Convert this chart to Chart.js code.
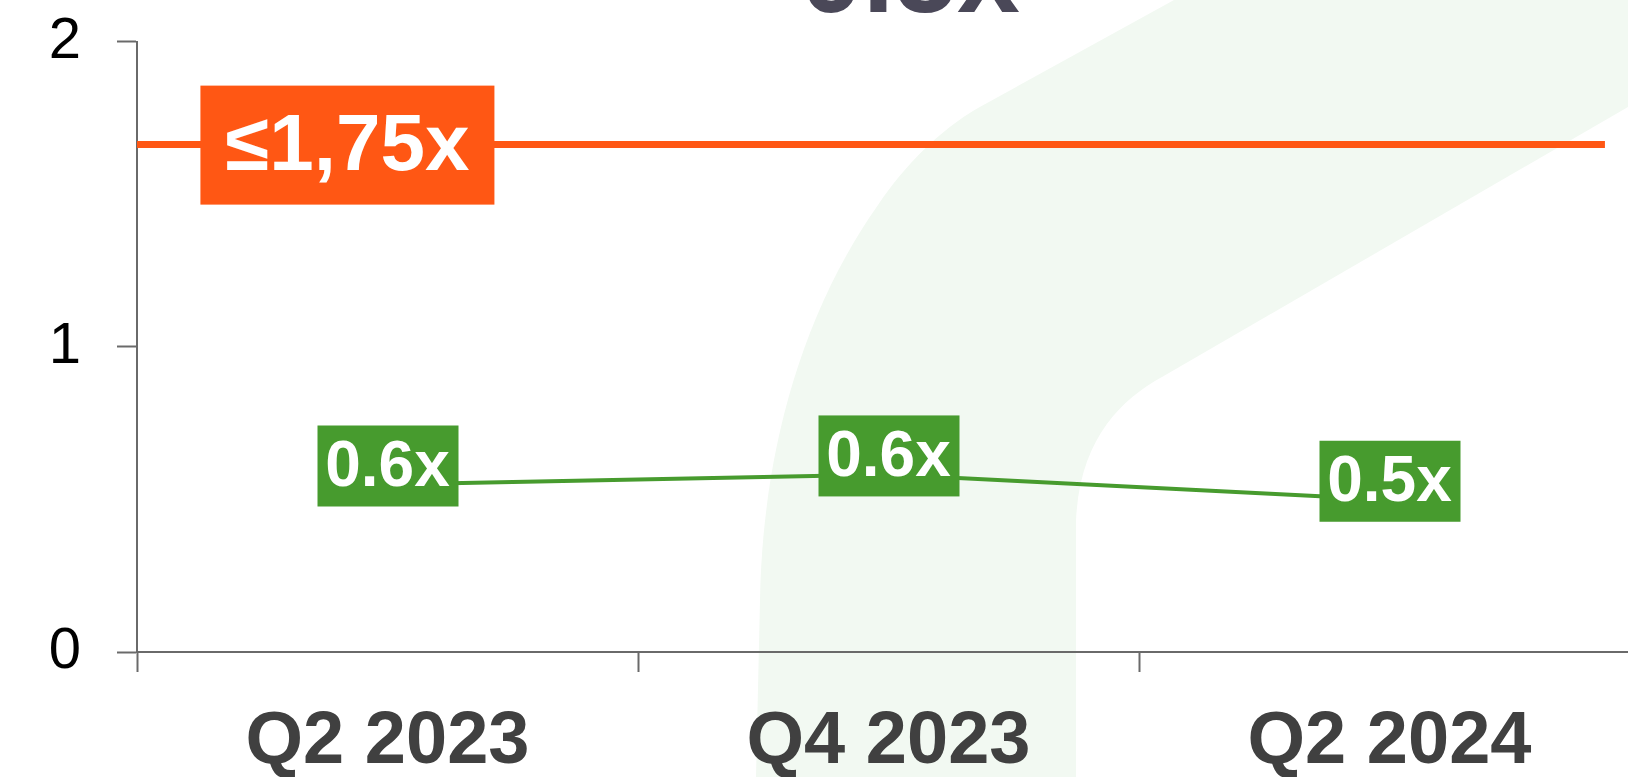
<!DOCTYPE html>
<html>
<head>
<meta charset="utf-8">
<script src="https://cdn.jsdelivr.net/npm/chart.js@4"></script>
<style>
  html, body { margin: 0; padding: 0; background: #fff; overflow: hidden; }
  #wrap { position: relative; width: 1628px; height: 777px; overflow: hidden; }
  #bg { position: absolute; left: 0; top: 0; }
  #headline {
    position: absolute; left: 800px; top: -83px;
    font: bold 113px 'Liberation Sans', Arial, sans-serif; line-height: 1;
    color: #4a4858; white-space: nowrap;
  }
  #chart { position: absolute; left: 0; top: -29px; }
</style>
</head>
<body>
<div id="wrap">
  <svg id="bg" width="1628" height="777">
    <path d="M 756 777 L 760 600 C 762 480, 790 330, 878 205 C 905 165, 940 130, 978 108 L 1174 0 L 1628 0 L 1628 107 L 1162 377 C 1120 400, 1080 440, 1076 520 L 1076 777 Z" fill="#f2f9f2"/>
  </svg>
  <div id="headline">0.5x</div>
  <canvas id="chart" width="1660" height="806"></canvas>
</div>
<script>
const quarters = ['Q2 2023', 'Q4 2023', 'Q2 2024'];
const leverage = [0.549, 0.582, 0.499];
const leverageLabels = ['0.6x', '0.6x', '0.5x'];
const targetValue = 1.663;
const targetSpan = [-0.5, 2.43];
const targetLabel = '\u22641,75x';
const targetLabelAt = -0.08;
const yTicks = [0, 1, 2];

const GREEN = '#479b2e';
const ORANGE = '#ff5714';
const AXIS = '#6a6a6a';
const FONT = "'Liberation Sans', Arial, sans-serif";

const labelBoxes = {
    id: 'labelBoxes',
    afterDatasetsDraw(chart) {
        const ctx = chart.ctx;
        ctx.save();
        ctx.textAlign = 'center';
        ctx.textBaseline = 'middle';

        // target label, sits on the threshold line
        const xl = chart.scales.xl, y = chart.scales.y;
        const tx = xl.getPixelForValue(targetLabelAt);
        const ty = y.getPixelForValue(targetValue);
        ctx.fillStyle = ORANGE;
        ctx.fillRect(tx - 147, ty - 59, 294, 119);
        ctx.fillStyle = '#fff';
        ctx.font = 'bold 80px ' + FONT;
        ctx.fillText(targetLabel, tx, ty + 3);

        // value boxes for the leverage line
        const meta = chart.getDatasetMeta(0);
        ctx.font = 'bold 64px ' + FONT;
        meta.data.forEach((pt, i) => {
            const cy = pt.y - 19;
            ctx.fillStyle = GREEN;
            ctx.fillRect(pt.x - 70, cy - 40, 141, 81);
            ctx.fillStyle = '#fff';
            ctx.fillText(leverageLabels[i], pt.x, cy + 3);
        });
        ctx.restore();
    }
};

new Chart(document.getElementById('chart'), {
    type: 'line',
    data: {
        labels: quarters,
        datasets: [
            {
                data: leverage,
                borderColor: GREEN,
                borderWidth: 4,
                pointRadius: 0,
                tension: 0
            },
            {
                data: targetSpan.map(x => ({ x: x, y: targetValue })),
                xAxisID: 'xl',
                borderColor: ORANGE,
                borderWidth: 7,
                pointRadius: 0
            }
        ]
    },
    options: {
        responsive: false,
        animation: false,
        layout: { padding: { left: 0, top: 13, right: 20, bottom: 0 } },
        plugins: { legend: { display: false }, tooltip: { enabled: false } },
        scales: {
            x: {
                type: 'category',
                offset: true,
                grid: { offset: true, drawOnChartArea: false, tickLength: 20, tickColor: AXIS, tickWidth: 2 },
                border: { color: AXIS, width: 2 },
                ticks: { color: '#404040', font: { family: FONT, size: 74, weight: 'bold' }, padding: 26, maxRotation: 0 },
                afterFit(scale) { scale.height = 125; }
            },
            xl: {
                type: 'linear',
                display: false,
                min: -0.5,
                max: 2.5
            },
            y: {
                min: 0,
                max: 2,
                afterBuildTicks(scale) { scale.ticks = yTicks.map(v => ({ value: v })); },
                grid: { drawOnChartArea: false, tickLength: 20, tickColor: AXIS, tickWidth: 2 },
                border: { color: AXIS, width: 2 },
                ticks: { color: '#000', font: { family: FONT, size: 58 }, padding: 36 },
                afterFit(scale) { scale.width = 137; }
            }
        }
    },
    plugins: [labelBoxes]
});
</script>
</body>
</html>
